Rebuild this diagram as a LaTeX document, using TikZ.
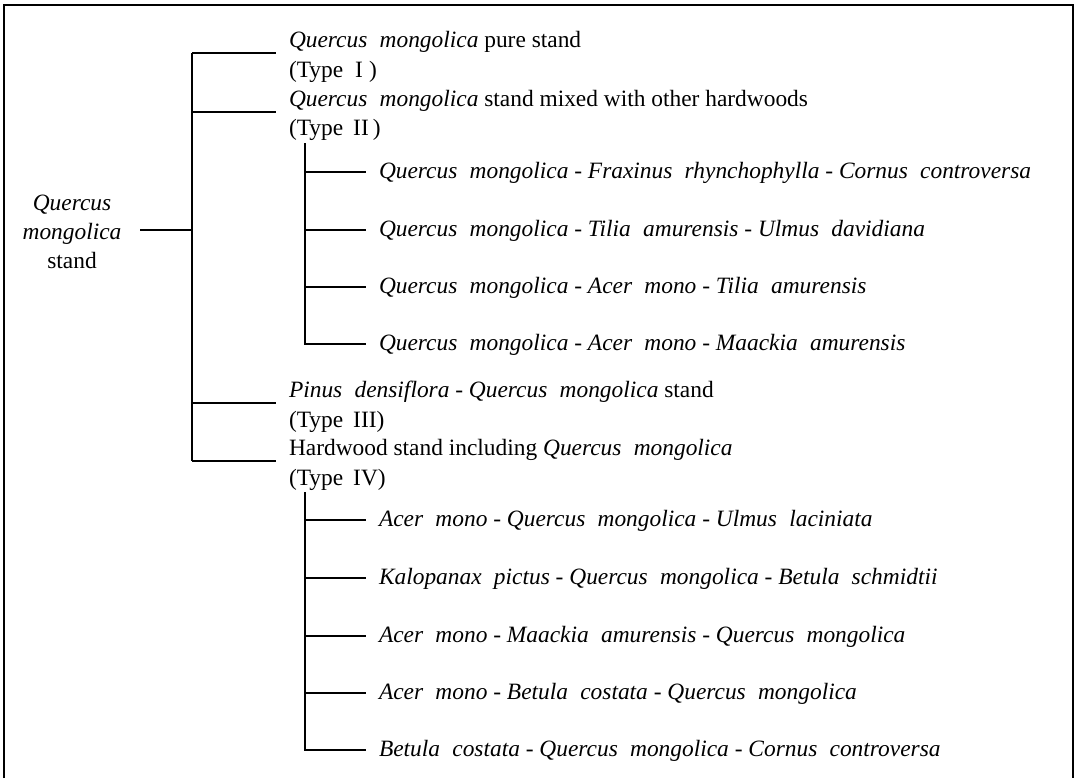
\documentclass[tikz,border=0pt]{standalone}
\usepackage{fontspec}
\setmainfont{Liberation Serif}[ItalicFeatures = {WordSpace = 2.1}]
\usetikzlibrary{positioning}

\begin{document}
\begin{tikzpicture}[x = 0.5pt, y = -0.5pt, line width = 1pt,
  txt/.style = {anchor = base west, inner sep = 0pt, font = \fontsize{11.7}{14.5}\selectfont}]
  \useasboundingbox (0, 0) rectangle (1079, 778);
  \draw[line width = 0.8pt] (4, 778) -- (4, 5) -- (1073, 5) -- (1073, 778);

  \node[txt, anchor = center, align = center] (root) at (72, 232)
    {\textit{Quercus}\\ \textit{mongolica}\\ stand};

  \coordinate (top) at (192, 53);
  \coordinate (bot) at (192, 461);
  \coordinate (rootend) at (140, 230);
  \draw (rootend) -- (rootend -| top);
  \draw (top) -- (bot);

  % Type I, II
  \node[txt] (typeI) at (288, 47) {\textit{Quercus mongolica} pure stand};
  \node[txt] (typeIlbl) at (288, 77) {(Type\hspace{6pt}I\hspace{3pt})};
  \node[txt] (typeII) at (288, 106) {\textit{Quercus mongolica} stand mixed with other hardwoods};
  \node[txt] (typeIIlbl) at (288, 135) {(Type\hspace{5pt}II\hspace{2pt})};
  \draw[shorten >= 6pt] (top) -- (top -| typeI.west);
  \draw[shorten >= 6pt] (top |- 0, 112) -- (typeI.west |- 0, 112);

  \node[txt] (a1) at (378, 178) {\textit{Quercus mongolica} - \textit{Fraxinus rhynchophylla} - \textit{Cornus controversa}};
  \node[txt] (a2) at (378, 236) {\textit{Quercus mongolica} - \textit{Tilia amurensis} - \textit{Ulmus davidiana}};
  \node[txt] (a3) at (378, 293) {\textit{Quercus mongolica} - \textit{Acer mono} - \textit{Tilia amurensis}};
  \node[txt] (a4) at (378, 350) {\textit{Quercus mongolica} - \textit{Acer mono} - \textit{Maackia amurensis}};
  \coordinate (atop) at (305, 143);
  \draw[shorten >= 6pt] (atop) -- (atop |- a4.west) -- (a4.west);
  \draw[shorten >= 6pt] (atop |- 0, 172) -- (a1.west |- 0, 172);
  \draw[shorten >= 6pt] (atop |- 0, 230) -- (a1.west |- 0, 230);
  \draw[shorten >= 6pt] (atop |- 0, 287) -- (a1.west |- 0, 287);

  % Type III, IV
  \node[txt] (typeIII) at (288, 397) {\textit{Pinus densiflora} - \textit{Quercus mongolica} stand};
  \node[txt] (typeIIIlbl) at (288, 427) {(Type\hspace{5pt}III)};
  \node[txt] (typeIV) at (288, 455) {Hardwood stand including \textit{Quercus mongolica}};
  \node[txt] (typeIVlbl) at (288, 485) {(Type\hspace{5pt}IV)};
  \draw[shorten >= 6pt] (top |- 0, 403) -- (typeIII.west |- 0, 403);
  \draw[shorten >= 6pt] (bot) -- (bot -| typeIV.west);

  \node[txt] (b1) at (378, 526) {\textit{Acer mono} - \textit{Quercus mongolica} - \textit{Ulmus laciniata}};
  \node[txt] (b2) at (378, 584) {\textit{Kalopanax pictus} - \textit{Quercus mongolica} - \textit{Betula schmidtii}};
  \node[txt] (b3) at (378, 642) {\textit{Acer mono} - \textit{Maackia amurensis} - \textit{Quercus mongolica}};
  \node[txt] (b4) at (378, 699) {\textit{Acer mono} - \textit{Betula costata} - \textit{Quercus mongolica}};
  \node[txt] (b5) at (378, 756) {\textit{Betula costata} - \textit{Quercus mongolica} - \textit{Cornus controversa}};
  \coordinate (btop) at (305, 492);
  \draw[shorten >= 6pt] (btop) -- (btop |- 0, 750) -- (b1.west |- 0, 750);
  \draw[shorten >= 6pt] (btop |- 0, 520) -- (b1.west |- 0, 520);
  \draw[shorten >= 6pt] (btop |- 0, 578) -- (b1.west |- 0, 578);
  \draw[shorten >= 6pt] (btop |- 0, 636) -- (b1.west |- 0, 636);
  \draw[shorten >= 6pt] (btop |- 0, 693) -- (b1.west |- 0, 693);
\end{tikzpicture}
\end{document}
